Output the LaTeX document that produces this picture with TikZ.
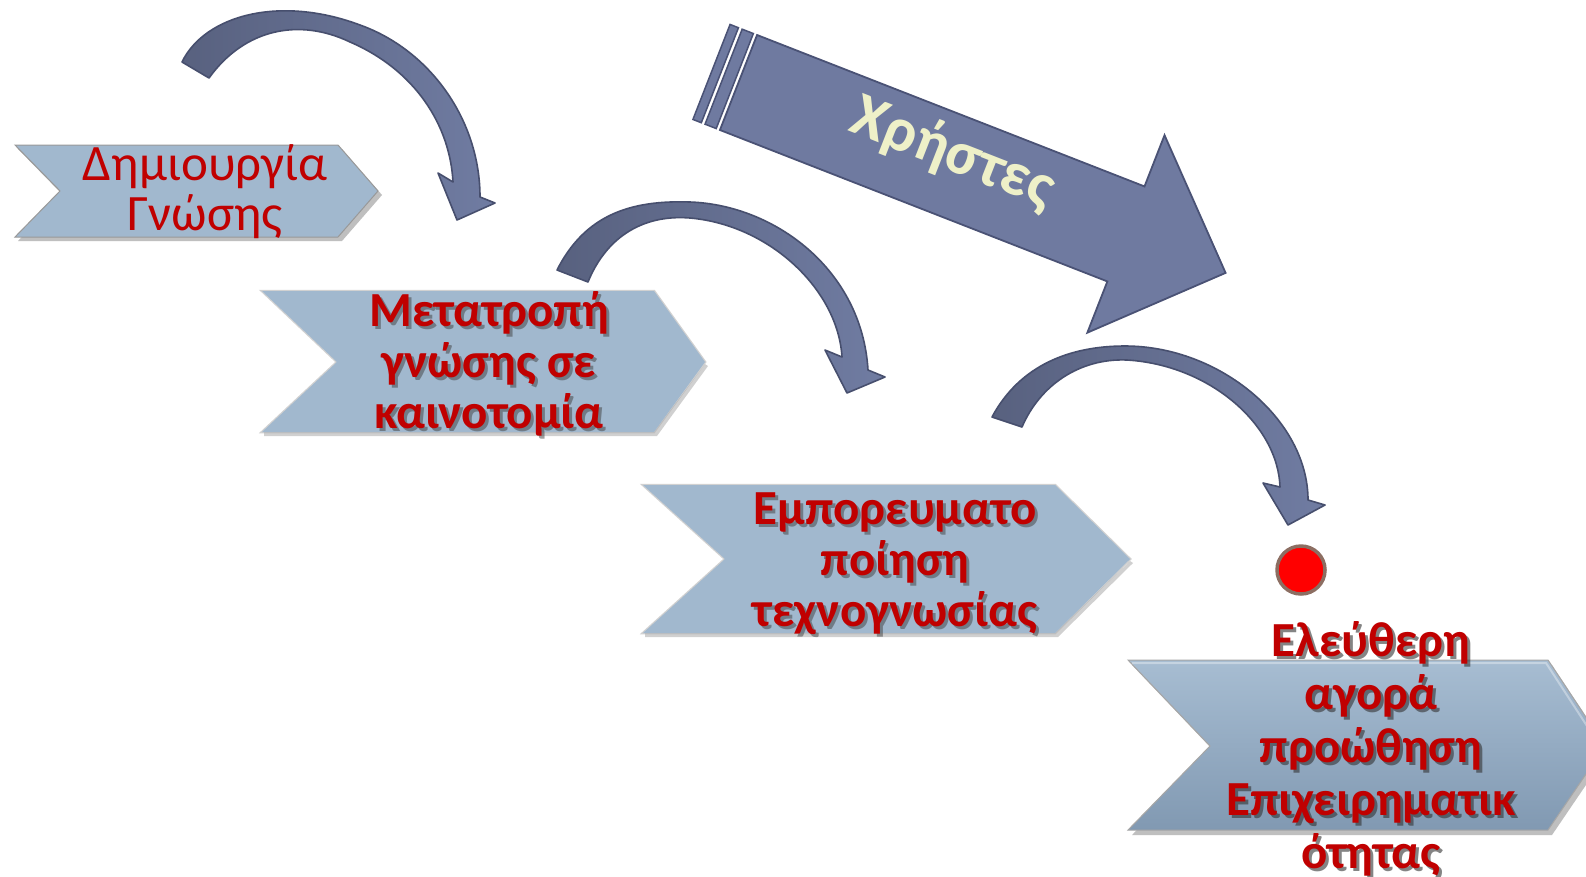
\documentclass[tikz,border=0pt]{standalone}
\usepackage{fontspec}
\newfontfamily\calfont{Carlito}
\definecolor{chevfill}{HTML}{A1B8CE}
\definecolor{chevtop}{HTML}{A7BDD2}
\definecolor{chevbot}{HTML}{8199B2}
\definecolor{txtred}{HTML}{C00000}
\definecolor{arrdark}{HTML}{58617F}
\definecolor{arrlight}{HTML}{707CA2}
\definecolor{arrline}{HTML}{474F6E}
\definecolor{bigfill}{HTML}{6F7AA0}
\definecolor{bigline}{HTML}{4A5275}
\definecolor{cream}{HTML}{EEF0C8}
\definecolor{dotline}{HTML}{8C6E62}
\begin{document}
\begin{tikzpicture}[x=1pt,y=-1pt,
  chev/.style={fill=chevfill},
  chevshadow/.style={fill=black!45, opacity=.55},
  chevglow/.style={draw=black!18, line width=2.5},
  carrow/.style={left color=arrdark, right color=arrlight, draw=arrline, line width=1.6, line join=round},
  lbl/.style={text=txtred, align=center, inner sep=0pt, font=\calfont\bfseries\fontsize{49}{51}\selectfont},
  lblsh/.style={lbl, text=black!75, opacity=.5},
  lblfour/.style={lbl, font=\calfont\bfseries\fontsize{49}{53}\selectfont},
  lblfoursh/.style={lblfour, text=black!80, opacity=.6},
]
\clip (0,0) rectangle (1586,876);
\fill[white] (0,0) rectangle (1586,876);

% ---------- chevron 1
\fill[chevshadow] (18,149) -- (342,149) -- (382,195) -- (342,241) -- (18,241) -- (63,195) -- cycle;
\path[chev, draw=black!40, line width=1] (15,145) -- (338,145) -- (378,191) -- (338,237) -- (15,237) -- (60,191) -- cycle;
\node[text=txtred, align=center, inner sep=0pt, font=\calfont\fontsize{51}{50}\selectfont] (c1txt) at (205,192) {Δημιουργία\\Γνώσης};

% ---------- chevron 2
\path[chevglow] (262,291) -- (654,291) -- (705,362) -- (654,432) -- (262,432) -- (337,362) -- cycle;
\fill[black!30, opacity=.6] (264,432) -- (654,432) -- (705,364) -- (708,366) -- (657,436) -- (264,436) -- cycle;
\path[chev] (262,291) -- (654,291) -- (705,362) -- (654,432) -- (262,432) -- (337,362) -- cycle;
\node[lblsh] (c2sh) at (492,367) {Μετατροπή\\γνώσης σε\\καινοτομία};
\node[lbl] (c2txt) at (489,364) {Μετατροπή\\γνώσης σε\\καινοτομία};

% ---------- chevron 3
\path[chevglow] (643,485) -- (1055,485) -- (1130,559) -- (1055,633) -- (643,633) -- (725,559) -- cycle;
\fill[black!30, opacity=.6] (645,633) -- (1055,633) -- (1130,561) -- (1133,563) -- (1058,637) -- (645,637) -- cycle;
\path[chev] (643,485) -- (1055,485) -- (1130,559) -- (1055,633) -- (643,633) -- (725,559) -- cycle;
\node[lblsh] (c3sh) at (898,567) {Εμπορευματο\\ποίηση\\τεχνογνωσίας};
\node[lbl] (c3txt) at (895,564) {Εμπορευματο\\ποίηση\\τεχνογνωσίας};

% ---------- chevron 4
\fill[black!45, opacity=.55] (1132,665) -- (1552,665) -- (1609,751) -- (1552,835) -- (1132,835) -- (1214,751) -- cycle;
\path[top color=chevtop, bottom color=chevbot, draw=black!35, line width=1] (1128,660) -- (1548,660) -- (1605,746) -- (1548,830) -- (1128,830) -- (1210,746) -- cycle;
\path[draw=white, opacity=.35, line width=2] (1132,663) -- (1546,663) -- (1600,746);

% ---------- curved arrows
\path[carrow] (182,62) .. controls (205,15) and (280,-5) .. (360,25) .. controls (430,50) and (480,120) .. (480,197) -- (495,203) -- (457,220) -- (438,173) -- (453,182) .. controls (450,125) and (415,70) .. (350,42) .. controls (300,18) and (245,28) .. (209,78) -- cycle;
\path[carrow] (557,270) .. controls (585,215) and (630,200) .. (690,202) .. controls (775,205) and (862,270) .. (868,370) -- (885,377) -- (847,393) -- (825,350) -- (842,357) .. controls (838,290) and (770,225) .. (690,218) .. controls (640,214) and (605,240) .. (588,282) -- cycle;
\path[carrow] (992,417) .. controls (1020,365) and (1070,346) .. (1125,346) .. controls (1220,346) and (1308,420) .. (1308,500) -- (1325,505) -- (1288,525) -- (1263,483) -- (1280,487) .. controls (1278,425) and (1210,365) .. (1127,360) .. controls (1080,358) and (1040,385) .. (1022,427) -- cycle;

% ---------- red dot
\node[circle, fill=red, draw=dotline, line width=3.5, minimum size=48, inner sep=0pt] (dot) at (1301,570) {};

% ---------- chevron 4 text
\node[lblfoursh] (c4sh) at (1374,752) {Ελεύθερη\\αγορά\\προώθηση\\Επιχειρηματικ\\ότητας};
\node[lblfour] (c4txt) at (1371,749) {Ελεύθερη\\αγορά\\προώθηση\\Επιχειρηματικ\\ότητας};

% ---------- big arrow "Χρήστες"
\begin{scope}[shift={(738.5,82.5)}, rotate=-21.35]
  \path[fill=bigfill, draw=bigline, line width=1.8, line join=miter] (0,-51) -- (416,-51) -- (416,-106) -- (523,0) -- (416,106) -- (416,51) -- (0,51) -- cycle;
  \path[fill=bigfill, draw=bigline, line width=1.5] (-16,-51) rectangle (-4,51);
  \path[fill=bigfill, draw=bigline, line width=1.5] (-29,-51) rectangle (-20,51);
  \node[rotate=-21.35, text=cream, inner sep=0pt, font=\calfont\bfseries\fontsize{62}{66}\selectfont] (users) at (226,-12) {Χρήστες};
\end{scope}
\end{tikzpicture}
\end{document}
